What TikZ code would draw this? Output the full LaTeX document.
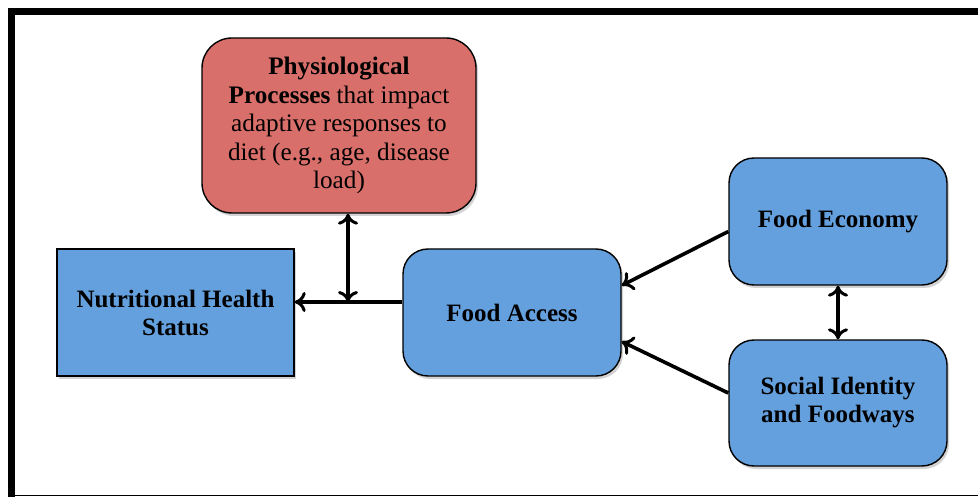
\documentclass[tikz,border=0pt]{standalone}
\usepackage{fontspec}
\setmainfont{Liberation Serif}
\usetikzlibrary{shadows,arrows.meta}

\definecolor{boxred}{HTML}{D96F6A}
\definecolor{boxblue}{HTML}{64A0DD}

\tikzset{
  bluebox/.style={draw=black, line width=1.4pt, fill=boxblue, align=center,
    font=\fontsize{25}{28}\selectfont\bfseries, inner sep=0pt,
    drop shadow={opacity=0.35, shadow xshift=2pt, shadow yshift=-3pt}},
  redbox/.style={draw=black, line width=1.4pt, fill=boxred, align=center,
    rounded corners=30pt, font=\fontsize{25.2}{28.5}\selectfont, inner sep=0pt,
    drop shadow={opacity=0.35, shadow xshift=2pt, shadow yshift=-3pt}},
  link/.style={line width=3.6pt, -{To[length=11pt,width=20pt,line width=3pt]}},
  twoway/.style={line width=3.6pt, {To[length=11pt,width=20pt,line width=3pt]}-{To[length=11pt,width=20pt,line width=3pt]}}
}

\begin{document}
\begin{tikzpicture}[x=1pt,y=-1pt]
  \useasboundingbox (0,0) rectangle (978,497);
  % frame
  \draw[line width=7pt] (8,11.5) -- (978,11.5);
  \draw[line width=7pt] (11.5,8) -- (11.5,497);
  \draw[line width=1.5pt] (8,495.5) -- (978,495.5);

  % boxes
  \node[redbox, minimum width=274pt, minimum height=175pt] (phys) at (339,125.5)
    {\textbf{Physiological}\\ \textbf{Processes} that impact\\ adaptive responses to\\ diet (e.g., age, disease\\ load)};
  \node[bluebox, minimum width=237pt, minimum height=127pt] (health) at (175.5,312.5)
    {Nutritional Health\\ Status};
  \node[bluebox, rounded corners=25pt, minimum width=218pt, minimum height=127pt] (access) at (512,312.5)
    {Food Access};
  \node[bluebox, rounded corners=25pt, minimum width=218pt, minimum height=127pt] (economy) at (838,221.5)
    {Food Economy};
  \node[bluebox, rounded corners=25pt, minimum width=218pt, minimum height=126pt] (identity) at (838,403)
    {Social Identity\\ and Foodways};

  % arrows
  \coordinate (junc) at (348,302);
  \draw[link] (access.west |- junc) -- (health.east |- junc);
  \draw[twoway] (junc |- phys.south) -- (junc);
  \draw[link] ([yshift=-10pt]economy.west) -- ([yshift=27pt]access.east);
  \draw[link] ([yshift=10pt]identity.west) -- ([yshift=-29pt]access.east);
  \draw[twoway] (economy.south) -- (identity.north);
\end{tikzpicture}
\end{document}
